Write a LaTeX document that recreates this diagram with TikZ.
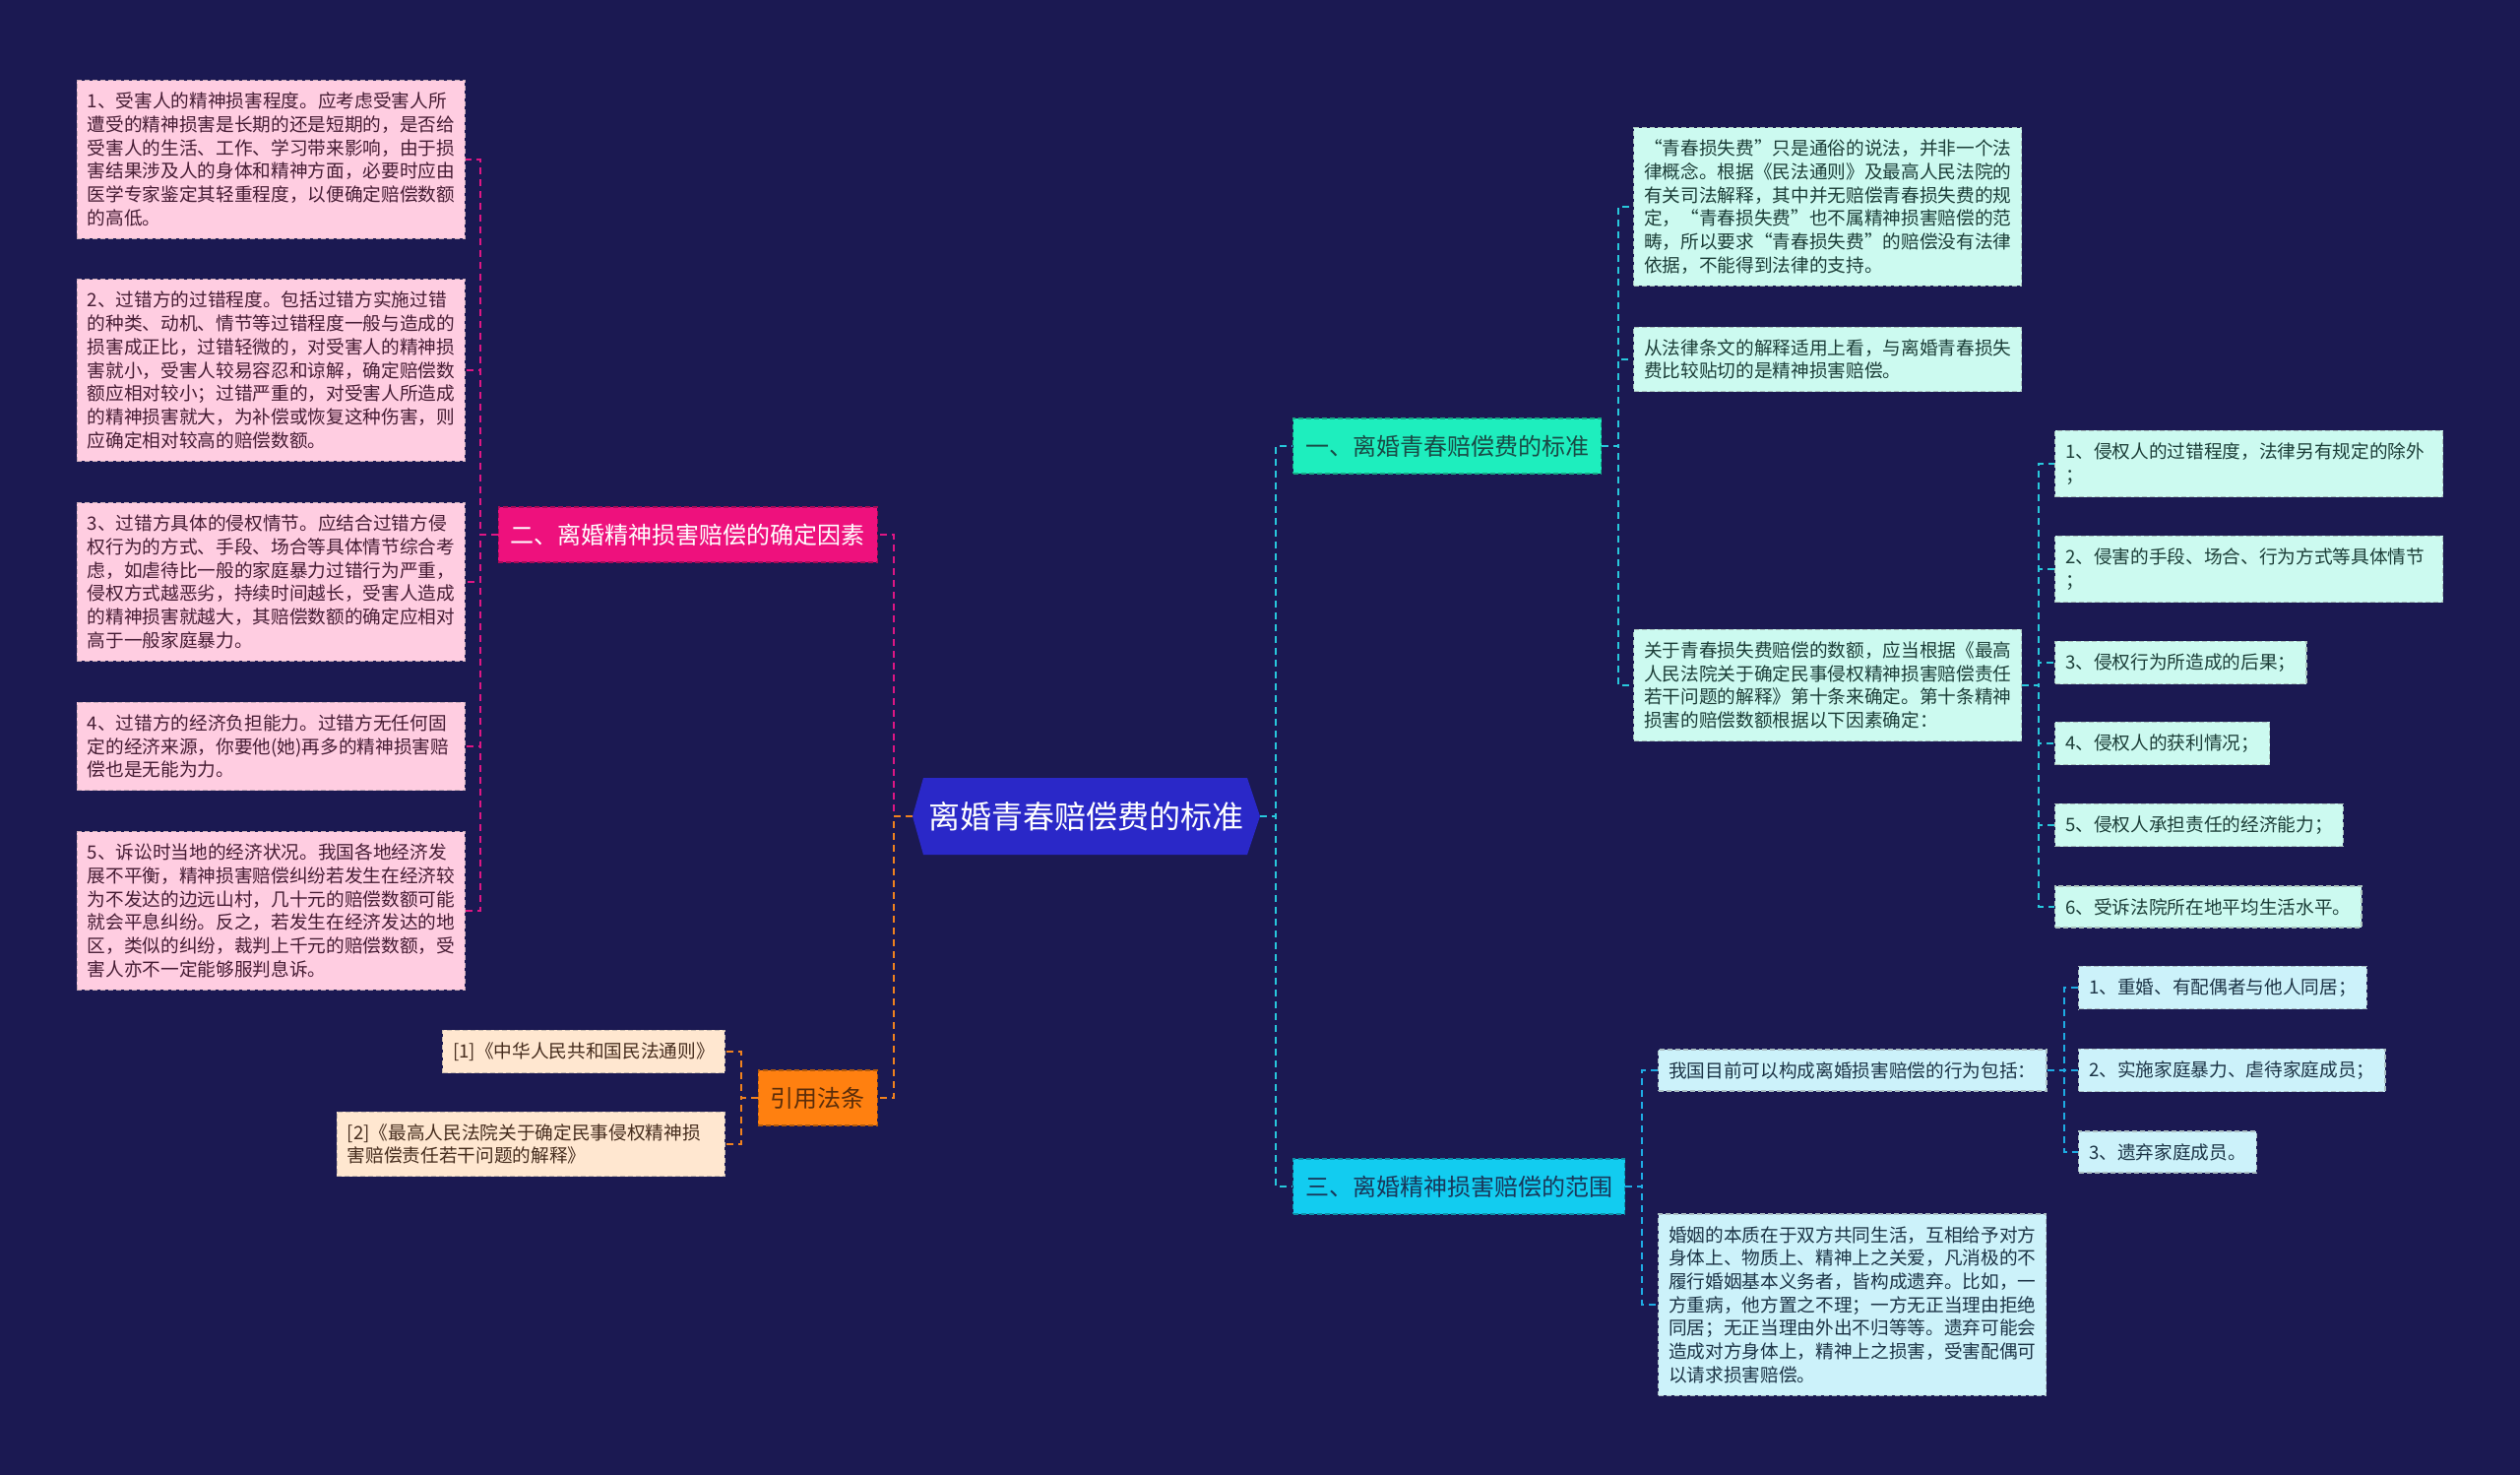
\documentclass[tikz,border=0pt]{standalone}
\usepackage{fontspec}
\setmainfont{Noto Sans CJK SC}
\definecolor{bgc}{RGB}{27,25,82}
\definecolor{rootc}{RGB}{42,40,200}
\definecolor{pinkc}{RGB}{238,17,125}
\definecolor{orangec}{RGB}{255,128,16}
\definecolor{aquac}{RGB}{30,238,190}
\definecolor{cyanc}{RGB}{18,204,240}
\definecolor{leafpink}{RGB}{255,205,225}
\definecolor{leafpeach}{RGB}{255,231,208}
\definecolor{leafmint}{RGB}{204,250,240}
\definecolor{leafcyan}{RGB}{204,242,250}
\definecolor{txtpink}{RGB}{70,28,52}
\definecolor{txtpeach}{RGB}{70,45,30}
\definecolor{txtmint}{RGB}{28,62,56}
\definecolor{txtcyan}{RGB}{28,52,70}
\definecolor{lnpink}{RGB}{222,22,132}
\definecolor{lnorange}{RGB}{240,130,30}
\definecolor{lncyan}{RGB}{40,200,220}
\definecolor{lnblue}{RGB}{30,172,228}
\newcommand\myleaf{\fontsize{18.67}{23.7}\selectfont}
\newcommand\mytopic{\fontsize{24}{28}\selectfont}
\newcommand\myrootf{\fontsize{32}{36}\selectfont}
\newcommand\myoq{\makebox[1em][r]{“}}
\newcommand\mycq{\makebox[1em][l]{”}}
\begin{document}
\begin{tikzpicture}[x=1pt,y=-1pt,
  leafbase/.style={draw, dashed, dash pattern=on 5pt off 3pt, line width=1.2pt, font=\myleaf, align=left, inner xsep=10.5pt, inner ysep=12.3pt},
  wide/.style={text width=373pt},
  lpink/.style={leafbase, fill=leafpink, draw=leafpink!60!gray, text=txtpink},
  lpeach/.style={leafbase, fill=leafpeach, draw=leafpeach!60!gray, text=txtpeach},
  lmint/.style={leafbase, fill=leafmint, draw=leafmint!55!gray, text=txtmint},
  lcyan/.style={leafbase, fill=leafcyan, draw=leafcyan!55!gray, text=txtcyan},
  topicbase/.style={draw, dashed, dash pattern=on 5pt off 3pt, line width=1.2pt, font=\mytopic, inner xsep=12.5pt, inner ysep=0pt, minimum height=56pt},
  tpink/.style={topicbase, fill=pinkc, draw=pinkc!70!black, text=white},
  torange/.style={topicbase, fill=orangec, draw=orangec!70!black, text={rgb,255:red,90;green,45;blue,10}},
  taqua/.style={topicbase, fill=aquac, draw=aquac!70!black, text={rgb,255:red,25;green,75;blue,70}},
  tcyan/.style={topicbase, fill=cyanc, draw=cyanc!70!black, text={rgb,255:red,25;green,55;blue,90}},
  conn/.style={dashed, dash pattern=on 7pt off 5pt, line width=2pt},
  cpink/.style={conn, draw=lnpink},
  corange/.style={conn, draw=lnorange},
  ccyan/.style={conn, draw=lncyan},
  cblue/.style={conn, draw=lnblue},
  rootnode/.style={minimum width=353pt, minimum height=78pt, inner sep=0pt, text=white, font=\myrootf}
]
\fill[bgc] (0,0) rectangle (2560,1498);
\useasboundingbox (0,0) rectangle (2560,1498);

% root
\fill[rootc] (927,829) -- (938,790) -- (1267,790) -- (1280,829) -- (1267,868) -- (938,868) -- cycle;
\node[rootnode] (root) at (1103.5,829) {离婚青春赔偿费的标准};

% left topics
\node[tpink, anchor=east] (b2) at (892,543) {二、离婚精神损害赔偿的确定因素};
\node[torange, anchor=east] (b4) at (892,1115) {引用法条};

% left leaves
\node[lpink, wide, anchor=east] (l1) at (473,162) {1、受害人的精神损害程度。应考虑受害人所\\遭受的精神损害是长期的还是短期的，是否给\\受害人的生活、工作、学习带来影响，由于损\\害结果涉及人的身体和精神方面，必要时应由\\医学专家鉴定其轻重程度，以便确定赔偿数额\\的高低。};
\node[lpink, wide, anchor=east] (l2) at (473,376) {2、过错方的过错程度。包括过错方实施过错\\的种类、动机、情节等过错程度一般与造成的\\损害成正比，过错轻微的，对受害人的精神损\\害就小，受害人较易容忍和谅解，确定赔偿数\\额应相对较小；过错严重的，对受害人所造成\\的精神损害就大，为补偿或恢复这种伤害，则\\应确定相对较高的赔偿数额。};
\node[lpink, wide, anchor=east] (l3) at (473,591) {3、过错方具体的侵权情节。应结合过错方侵\\权行为的方式、手段、场合等具体情节综合考\\虑，如虐待比一般的家庭暴力过错行为严重，\\侵权方式越恶劣，持续时间越长，受害人造成\\的精神损害就越大，其赔偿数额的确定应相对\\高于一般家庭暴力。};
\node[lpink, wide, anchor=east] (l4) at (473,758) {4、过错方的经济负担能力。过错方无任何固\\定的经济来源，你要他(她)再多的精神损害赔\\偿也是无能为力。};
\node[lpink, wide, anchor=east] (l5) at (473,925) {5、诉讼时当地的经济状况。我国各地经济发\\展不平衡，精神损害赔偿纠纷若发生在经济较\\为不发达的边远山村，几十元的赔偿数额可能\\就会平息纠纷。反之，若发生在经济发达的地\\区，类似的纠纷，裁判上千元的赔偿数额，受\\害人亦不一定能够服判息诉。};

\node[lpeach, anchor=east] (r1) at (737,1068) {[1]《中华人民共和国民法通则》};
\node[lpeach, wide, anchor=east] (r2) at (737,1162) {[2]《最高人民法院关于确定民事侵权精神损\\害赔偿责任若干问题的解释》};

% right topics
\node[taqua, anchor=west] (b1) at (1313,453) {一、离婚青春赔偿费的标准};
\node[tcyan, anchor=west] (b3) at (1313,1205) {三、离婚精神损害赔偿的范围};

% right leaves under b1
\node[lmint, wide, anchor=west] (a1) at (1659,210) {\myoq 青春损失费\mycq 只是通俗的说法，并非一个法\\律概念。根据《民法通则》及最高人民法院的\\有关司法解释，其中并无赔偿青春损失费的规\\定，\myoq 青春损失费\mycq 也不属精神损害赔偿的范\\畴，所以要求\myoq 青春损失费\mycq 的赔偿没有法律\\依据，不能得到法律的支持。};
\node[lmint, wide, anchor=west] (a2) at (1659,365) {从法律条文的解释适用上看，与离婚青春损失\\费比较贴切的是精神损害赔偿。};
\node[lmint, wide, anchor=west] (a3) at (1659,696) {关于青春损失费赔偿的数额，应当根据《最高\\人民法院关于确定民事侵权精神损害赔偿责任\\若干问题的解释》第十条来确定。第十条精神\\损害的赔偿数额根据以下因素确定：};

\node[lmint, wide, anchor=west] (s1) at (2087,471) {1、侵权人的过错程度，法律另有规定的除外\\；};
\node[lmint, wide, anchor=west] (s2) at (2087,578) {2、侵害的手段、场合、行为方式等具体情节\\；};
\node[lmint, anchor=west] (s3) at (2087,673) {3、侵权行为所造成的后果；};
\node[lmint, anchor=west] (s4) at (2087,755) {4、侵权人的获利情况；};
\node[lmint, anchor=west] (s5) at (2087,838) {5、侵权人承担责任的经济能力；};
\node[lmint, anchor=west] (s6) at (2087,921) {6、受诉法院所在地平均生活水平。};

% right leaves under b3
\node[lcyan, anchor=west] (c1) at (1684,1087) {我国目前可以构成离婚损害赔偿的行为包括：};
\node[lcyan, wide, anchor=west] (c2) at (1684,1325) {婚姻的本质在于双方共同生活，互相给予对方\\身体上、物质上、精神上之关爱，凡消极的不\\履行婚姻基本义务者，皆构成遗弃。比如，一\\方重病，他方置之不理；一方无正当理由拒绝\\同居；无正当理由外出不归等等。遗弃可能会\\造成对方身体上，精神上之损害，受害配偶可\\以请求损害赔偿。};
\node[lcyan, anchor=west] (d1) at (2111,1003) {1、重婚、有配偶者与他人同居；};
\node[lcyan, anchor=west] (d2) at (2111,1087) {2、实施家庭暴力、虐待家庭成员；};
\node[lcyan, anchor=west] (d3) at (2111,1170) {3、遗弃家庭成员。};

% connectors: left
\draw[cpink] (root.west) -- ++(-19,0) |- (b2.east);
\foreach \n in {l1,l2,l3,l4,l5} \draw[cpink] (b2.west) -- ++(-18,0) |- (\n.east);
\draw[corange] (root.west) -- ++(-19,0) |- (b4.east);
\foreach \n in {r1,r2} \draw[corange] (b4.west) -- ++(-17,0) |- (\n.east);

% connectors: right
\foreach \n in {b1,b3} \draw[ccyan] (root.east) -- ++(16,0) |- (\n.west);
\foreach \n in {a1,a2,a3} \draw[ccyan] (b1.east) -- ++(17,0) |- (\n.west);
\foreach \n in {s1,s2,s3,s4,s5,s6} \draw[ccyan] (a3.east) -- ++(17,0) |- (\n.west);
\foreach \n in {c1,c2} \draw[cblue] (b3.east) -- ++(17,0) |- (\n.west);
\foreach \n in {d1,d2,d3} \draw[cblue] (c1.east) -- ++(17,0) |- (\n.west);
\end{tikzpicture}
\end{document}
